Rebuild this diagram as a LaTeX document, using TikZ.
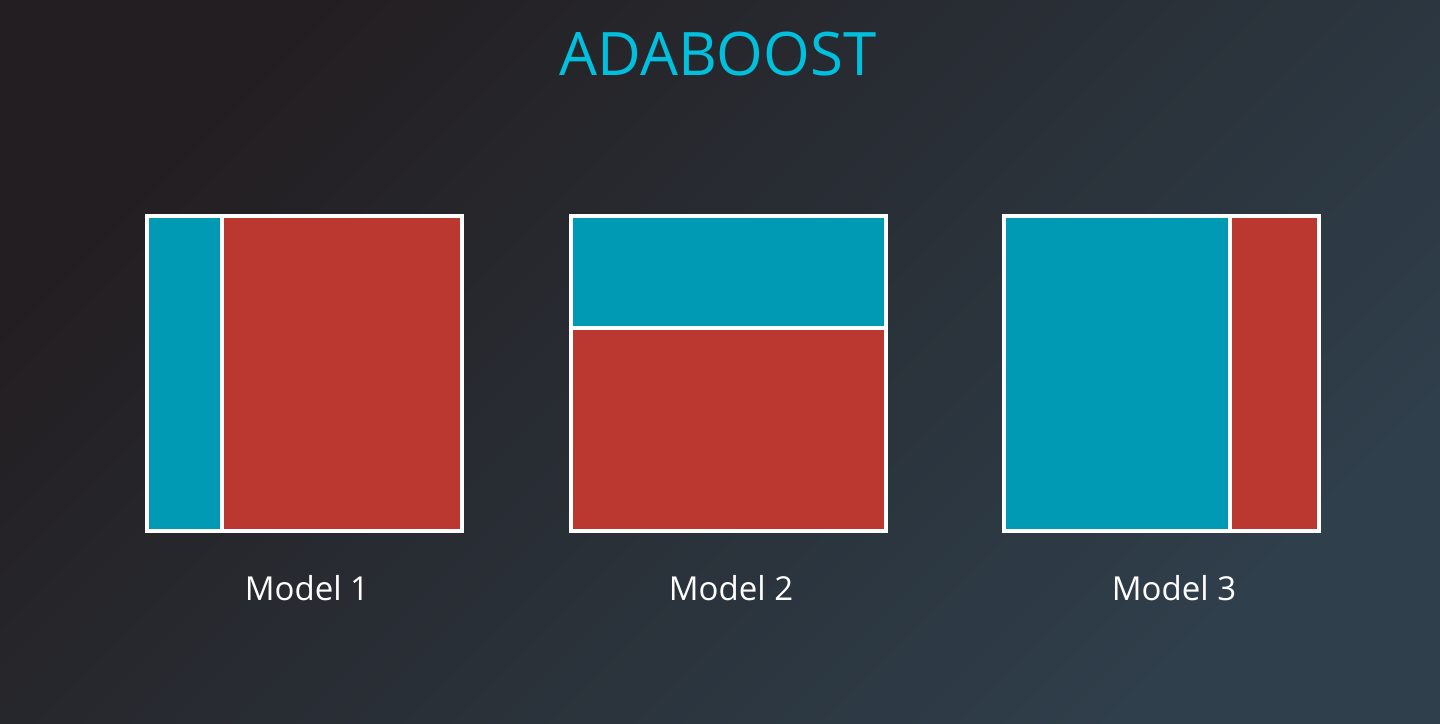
\documentclass[tikz,border=0pt]{standalone}
\usepackage{fontspec}
\setmainfont{Open Sans}
\usepackage{tikz}
\definecolor{bgtl}{HTML}{231E21}
\definecolor{bgbr}{HTML}{2F3F4B}
\definecolor{titlecyan}{HTML}{00C0DE}
\definecolor{teal}{HTML}{009AB4}
\definecolor{brick}{HTML}{BB3830}

\begin{document}
\begin{tikzpicture}[x=0.5pt,y=-0.5pt,
		frame/.style={draw=white,line width=2pt},
		split/.style={draw=white,line width=1.8pt},
		label/.style={text=white,font=\fontsize{16.5}{20}\selectfont,anchor=base}]
		\shade[top color=bgtl, bottom color=bgbr, shading angle=45] (0,0) rectangle (1440,723);
		\useasboundingbox (0,0) rectangle (1440,723);
		\node[text=titlecyan,font=\fontsize{30}{36}\selectfont,anchor=base] (title) at (718,75) {ADABOOST};
		
		% model 1: thin teal strip on the left
		\fill[teal] (147,216) rectangle (222,531);
		\fill[brick] (222,216) rectangle (462,531);
		\draw[split] (222,216) -- (222,531);
		\draw[frame] (147,216) rectangle (462,531);
		
		% model 2: teal on top
		\fill[teal] (571,216) rectangle (886,328);
		\fill[brick] (571,328) rectangle (886,531);
		\draw[split] (571,328) -- (886,328);
		\draw[frame] (571,216) rectangle (886,531);
		
		% model 3: thin red strip on the right
		\fill[teal] (1004,216) rectangle (1230,531);
		\fill[brick] (1230,216) rectangle (1319,531);
		\draw[split] (1230,216) -- (1230,531);
		\draw[frame] (1004,216) rectangle (1319,531);
		
		\foreach \x/\n in {307/1, 731/2, 1174/3}
			\node[label] (m\n) at (\x,600) {Model \n};
	\end{tikzpicture}
\end{document}
